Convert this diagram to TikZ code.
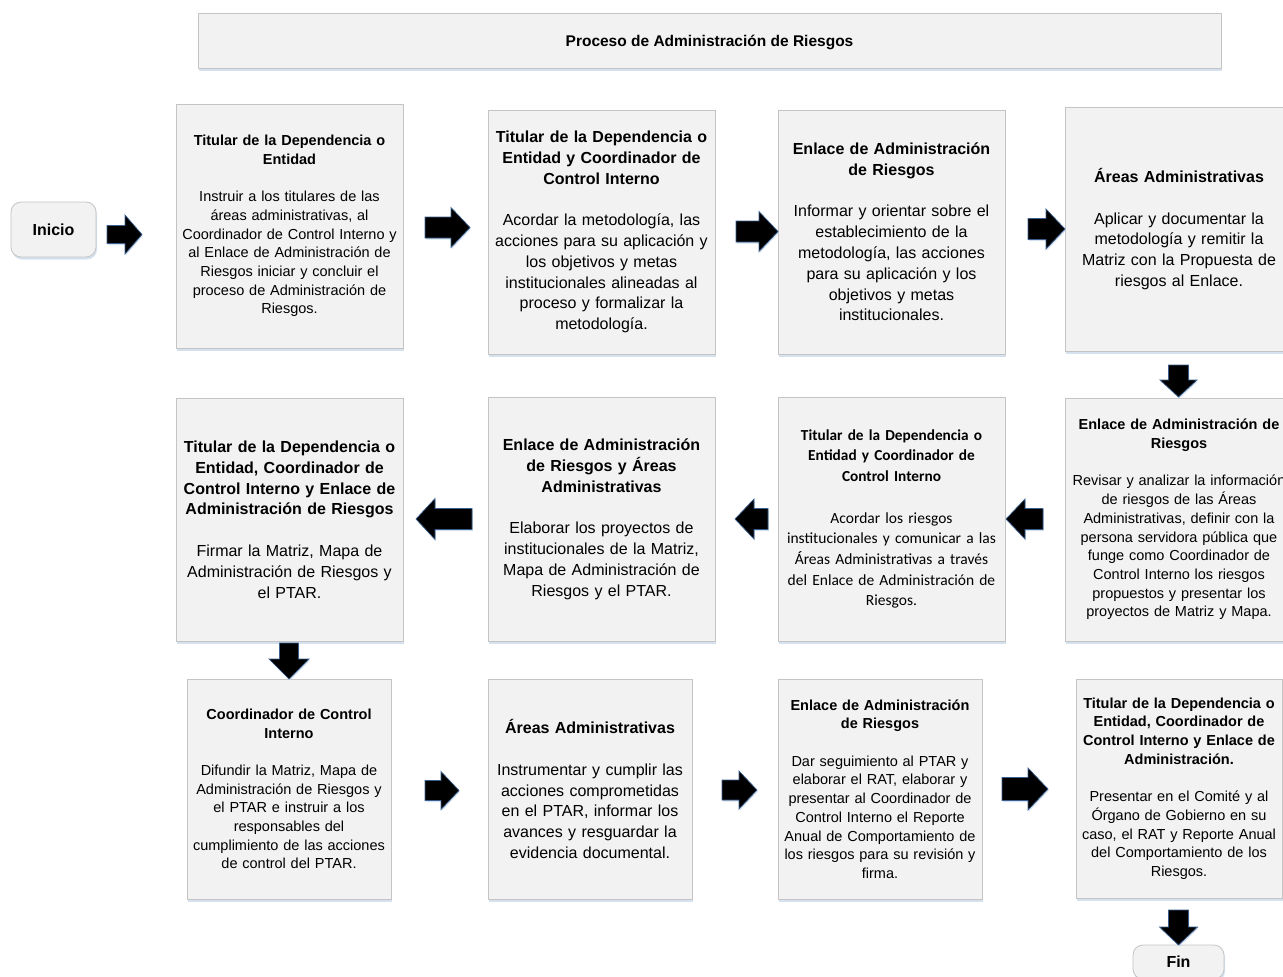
\documentclass[tikz,border=0pt]{standalone}
\usepackage{fontspec}
\setmainfont{Liberation Sans}
\newfontfamily\carl{Carlito}
\usetikzlibrary{shadows}
\definecolor{boxfill}{HTML}{F2F2F2}
\definecolor{boxdraw}{HTML}{C4C4C4}
\definecolor{shadowc}{HTML}{CCDAEC}
\definecolor{arrowedge}{HTML}{3A5F8F}
\newcommand{\smf}{\fontsize{14.5}{18.7}\selectfont}
\newcommand{\lgf}{\fontsize{16}{20.8}\selectfont}
\newcommand{\blockarrow}[8]{%
  \begin{scope}[shift={(#2,#3)}, rotate=#4]
    \coordinate (#1) at (0,0);
    \draw[arrowstyle] (-#5/2,-#7/2) -- ({#5/2-#8},-#7/2) -- ({#5/2-#8},-#6/2) -- (#5/2,0)
      -- ({#5/2-#8},#6/2) -- ({#5/2-#8},#7/2) -- (-#5/2,#7/2) -- cycle;
  \end{scope}}
\begin{document}
\begin{tikzpicture}[x=1pt,y=-1pt,
  box/.style={draw=boxdraw, fill=boxfill, line width=0.8pt, align=center, inner sep=3pt,
    drop shadow={shadow xshift=1pt, shadow yshift=-2.5pt, fill=shadowc, opacity=0.8}},
  termbox/.style={box, rounded corners=10pt, font=\bfseries\fontsize{16}{19}\selectfont},
  arrowstyle/.style={fill=black, draw=arrowedge, line width=0.7pt, line join=miter,
    drop shadow={shadow xshift=0.8pt, shadow yshift=-1.5pt, fill=shadowc, opacity=0.8}}]
\useasboundingbox (0,0) rectangle (1283,977);
\clip (0,0) rectangle (1283,977);

\node[box, minimum width=1023pt, minimum height=55pt, font=\bfseries\fontsize{15.5}{18}\selectfont, text depth=0pt, text height=12pt] (title) at (709.5,40.5) {Proceso de Administración de Riesgos};

\node[termbox, minimum width=85pt, minimum height=55pt] (inicio) at (53.5,229.5) {Inicio};
\node[termbox, minimum width=91pt, minimum height=34pt] (fin) at (1178.5,962) {Fin};

% row 1
\node[box, font=\smf, minimum width=227pt, minimum height=244pt, text width=221pt] (b1) at (289.5,226)
 {\textbf{Titular de la Dependencia o\\Entidad}\\[18.7pt]
  Instruir a los titulares de las\\áreas administrativas, al\\Coordinador de Control Interno y\\al Enlace de Administración de\\Riesgos iniciar y concluir el\\proceso de Administración de\\Riesgos.};
\node[box, font=\lgf, minimum width=227pt, minimum height=244pt, text width=221pt] (b2) at (601.5,232)
 {\textbf{Titular de la Dependencia o\\Entidad y Coordinador de\\Control Interno}\\[20.8pt]
  Acordar la metodología, las\\acciones para su aplicación y\\los objetivos y metas\\institucionales alineadas al\\proceso y formalizar la\\metodología.};
\node[box, font=\lgf, minimum width=227pt, minimum height=244pt, text width=221pt] (b3) at (891.5,232)
 {\textbf{Enlace de Administración\\de Riesgos}\\[20.8pt]
  Informar y orientar sobre el\\establecimiento de la\\metodología, las acciones\\para su aplicación y los\\objetivos y metas\\institucionales.};
\node[box, font=\lgf, minimum width=228pt, minimum height=244pt, text width=222pt] (b4) at (1179,229)
 {\textbf{Áreas Administrativas}\\[20.8pt]
  Aplicar y documentar la\\metodología y remitir la\\Matriz con la Propuesta de\\riesgos al Enlace.};

% row 2
\node[box, font=\smf, minimum width=228pt, minimum height=243pt, text width=222pt] (b5) at (1179,519.5)
 {\textbf{Enlace de Administración de\\Riesgos}\\[18.7pt]
  Revisar y analizar la información\\de riesgos de las Áreas\\Administrativas, definir con la\\persona servidora pública que\\funge como Coordinador de\\Control Interno los riesgos\\propuestos y presentar los\\proyectos de Matriz y Mapa.};
\node[box, font=\carl\fontsize{15.5}{20.7}\selectfont, minimum width=227pt, minimum height=244pt, text width=221pt] (b6) at (891.5,519)
 {{\bfseries\fontsize{15.3}{20.7}\selectfont Titular de la Dependencia o\\Entidad y Coordinador de\\Control Interno}\\[20.7pt]
  Acordar los riesgos\\institucionales y comunicar a las\\Áreas Administrativas a través\\del Enlace de Administración de\\Riesgos.};
\node[box, font=\lgf, minimum width=227pt, minimum height=244pt, text width=221pt] (b7) at (601.5,519)
 {\textbf{Enlace de Administración\\de Riesgos y Áreas\\Administrativas}\\[20.8pt]
  Elaborar los proyectos de\\institucionales de la Matriz,\\Mapa de Administración de\\Riesgos y el PTAR.};
\node[box, font=\lgf, minimum width=227pt, minimum height=243pt, text width=221pt] (b8) at (289.5,519.5)
 {\textbf{Titular de la Dependencia o\\Entidad, Coordinador de\\Control Interno y Enlace de\\Administración de Riesgos}\\[20.8pt]
  Firmar la Matriz, Mapa de\\Administración de Riesgos y\\el PTAR.};

% row 3
\node[box, font=\smf, minimum width=204pt, minimum height=220pt, text width=198pt] (b9) at (289,789)
 {\textbf{Coordinador de Control\\Interno}\\[18.7pt]
  Difundir la Matriz, Mapa de\\Administración de Riesgos y\\el PTAR e instruir a los\\responsables del\\cumplimiento de las acciones\\de control del PTAR.};
\node[box, font=\lgf, minimum width=204pt, minimum height=220pt, text width=198pt] (b10) at (590,789)
 {\textbf{Áreas Administrativas}\\[20.8pt]
  Instrumentar y cumplir las\\acciones comprometidas\\en el PTAR, informar los\\avances y resguardar la\\evidencia documental.};
\node[box, font=\smf, minimum width=204pt, minimum height=220pt, text width=198pt] (b11) at (880,789)
 {\textbf{Enlace de Administración\\de Riesgos}\\[18.7pt]
  Dar seguimiento al PTAR y\\elaborar el RAT, elaborar y\\presentar al Coordinador de\\Control Interno el Reporte\\Anual de Comportamiento de\\los riesgos para su revisión y\\firma.};
\node[box, font=\smf, minimum width=206pt, minimum height=219pt, text width=200pt] (b12) at (1179,788.5)
 {\textbf{Titular de la Dependencia o\\Entidad, Coordinador de\\Control Interno y Enlace de\\Administración.}\\[18.7pt]
  Presentar en el Comité y al\\Órgano de Gobierno en su\\caso, el RAT y Reporte Anual\\del Comportamiento de los\\Riesgos.};

% block arrows
\blockarrow{a0}{124.5}{234.5}{0}{35}{39}{18}{17}
\blockarrow{a1}{447.5}{227.5}{0}{45}{40}{21}{19}
\blockarrow{a2}{757}{231.5}{0}{42}{40}{21}{19}
\blockarrow{a3}{1046.5}{229}{0}{37}{40}{21}{19}
\blockarrow{a4}{1178.5}{381}{-90}{32}{37}{20}{17}
\blockarrow{a5}{1024.5}{519}{180}{37}{40}{21}{19}
\blockarrow{a6}{751.5}{519}{180}{33}{40}{21}{19}
\blockarrow{a7}{444}{519}{180}{56}{41}{21}{19}
\blockarrow{a8}{289}{661}{-90}{36}{40}{19}{20}
\blockarrow{a9}{442}{790.5}{0}{34}{38}{20}{18}
\blockarrow{a10}{739.5}{790}{0}{35}{38}{20}{18}
\blockarrow{a11}{1025}{789}{0}{46}{42}{23}{20}
\blockarrow{a12}{1178.5}{927.5}{-90}{35}{38}{20}{18}
\end{tikzpicture}
\end{document}
